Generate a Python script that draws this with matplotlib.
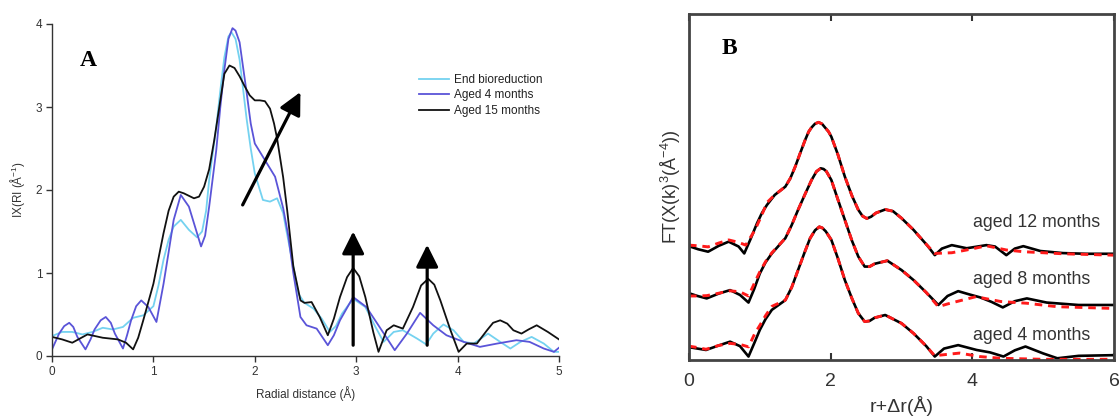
import matplotlib
matplotlib.use("Agg")
import matplotlib.pyplot as plt

plt.rcParams['font.family'] = ['Liberation Sans', 'DejaVu Sans']
plt.rcParams['mathtext.fontset'] = 'custom'
plt.rcParams['mathtext.rm'] = 'Liberation Sans'
plt.rcParams['mathtext.it'] = 'Liberation Sans:italic'

# ---------------- Panel A data ----------------
a_series = ["End bioreduction", "Aged 4 months", "Aged 15 months"]

end_x = [0.00, 0.10, 0.20, 0.30, 0.40, 0.50, 0.60, 0.70, 0.80, 0.90, 1.00, 1.05, 1.10, 1.15,
         1.20, 1.27, 1.35, 1.43, 1.48, 1.52, 1.55, 1.62, 1.66, 1.70, 1.74, 1.77, 1.81, 1.85,
         1.92, 1.96, 2.00, 2.08, 2.15, 2.22, 2.28, 2.31, 2.38, 2.43, 2.49, 2.58, 2.66, 2.74,
         2.80, 2.86, 2.97, 3.09, 3.19, 3.27, 3.37, 3.46, 3.60, 3.69, 3.76, 3.86, 3.96, 4.06,
         4.16, 4.30, 4.42, 4.52, 4.62, 4.73, 4.85, 4.95, 5.00]
end_y = [0.24, 0.29, 0.29, 0.26, 0.29, 0.34, 0.32, 0.35, 0.46, 0.49, 0.60, 0.85, 1.16, 1.40,
         1.56, 1.64, 1.52, 1.43, 1.50, 1.75, 2.12, 2.76, 3.20, 3.60, 3.85, 3.90, 3.82, 3.57,
         2.85, 2.50, 2.20, 1.88, 1.86, 1.90, 1.72, 1.52, 1.08, 0.75, 0.64, 0.57, 0.45, 0.29,
         0.36, 0.51, 0.69, 0.59, 0.35, 0.17, 0.29, 0.31, 0.21, 0.14, 0.27, 0.38, 0.31, 0.17,
         0.15, 0.27, 0.17, 0.09, 0.17, 0.23, 0.15, 0.05, 0.05]

a4_x = [0.00, 0.07, 0.12, 0.17, 0.21, 0.25, 0.33, 0.38, 0.42, 0.48, 0.53, 0.58, 0.62, 0.70,
        0.74, 0.78, 0.83, 0.88, 0.95, 1.03, 1.10, 1.15, 1.20, 1.27, 1.35, 1.42, 1.47, 1.51,
        1.55, 1.62, 1.66, 1.70, 1.74, 1.78, 1.81, 1.85, 1.92, 1.96, 2.00, 2.10, 2.20, 2.28,
        2.33, 2.38, 2.45, 2.51, 2.61, 2.72, 2.78, 2.84, 2.97, 3.10, 3.23, 3.38, 3.50, 3.63,
        3.76, 3.89, 4.06, 4.22, 4.39, 4.58, 4.71, 4.85, 4.95, 5.00]
a4_y = [0.08, 0.27, 0.36, 0.40, 0.35, 0.23, 0.08, 0.20, 0.32, 0.43, 0.47, 0.40, 0.27, 0.09,
        0.25, 0.43, 0.60, 0.67, 0.59, 0.41, 0.87, 1.25, 1.64, 1.94, 1.80, 1.52, 1.32, 1.45,
        1.80, 2.48, 3.00, 3.45, 3.82, 3.95, 3.92, 3.78, 3.17, 2.80, 2.56, 2.36, 2.16, 1.78,
        1.45, 1.00, 0.47, 0.37, 0.33, 0.13, 0.25, 0.43, 0.71, 0.59, 0.35, 0.07, 0.27, 0.52,
        0.37, 0.25, 0.17, 0.11, 0.15, 0.19, 0.17, 0.09, 0.05, 0.10]

a15_x = [0.00, 0.10, 0.20, 0.35, 0.50, 0.65, 0.73, 0.80, 0.85, 0.90, 1.00, 1.10, 1.15, 1.20,
         1.25, 1.30, 1.40, 1.45, 1.50, 1.55, 1.60, 1.65, 1.70, 1.75, 1.80, 1.85, 1.90, 1.95,
         2.00, 2.05, 2.10, 2.15, 2.19, 2.22, 2.28, 2.32, 2.38, 2.45, 2.49, 2.56, 2.64, 2.72,
         2.78, 2.84, 2.91, 2.97, 3.03, 3.09, 3.17, 3.22, 3.30, 3.37, 3.46, 3.56, 3.64, 3.71,
         3.77, 3.83, 3.93, 4.01, 4.09, 4.19, 4.29, 4.35, 4.42, 4.49, 4.55, 4.63, 4.70, 4.78,
         4.89, 5.00]
a15_y = [0.23, 0.20, 0.16, 0.26, 0.22, 0.20, 0.16, 0.08, 0.22, 0.43, 0.87, 1.48, 1.75, 1.92,
         1.98, 1.96, 1.90, 1.92, 2.04, 2.25, 2.60, 3.00, 3.40, 3.50, 3.47, 3.37, 3.25, 3.14,
         3.08, 3.08, 3.07, 2.98, 2.80, 2.62, 2.15, 1.75, 1.08, 0.67, 0.64, 0.65, 0.47, 0.25,
         0.45, 0.71, 0.95, 1.06, 0.96, 0.71, 0.28, 0.05, 0.31, 0.37, 0.33, 0.59, 0.85, 0.93,
         0.86, 0.67, 0.31, 0.05, 0.15, 0.15, 0.31, 0.40, 0.43, 0.39, 0.31, 0.27, 0.32, 0.37,
         0.29, 0.20]

a_colors = ["#74d2f0", "#5a54d8", "#111111"]

# arrows (tail x, tail y, head x, head y)
a_arrows = [(1.88, 1.82, 2.45, 3.18), (2.97, 0.13, 2.97, 1.50), (3.70, 0.13, 3.70, 1.34)]

# ---------------- Panel B data ----------------
b_labels = ["aged 12 months", "aged 8 months", "aged 4 months"]

b12_x = [0.00, 0.13, 0.27, 0.42, 0.56, 0.70, 0.78, 0.87, 0.96, 1.03, 1.10, 1.21, 1.36, 1.43,
         1.50, 1.57, 1.64, 1.69, 1.73, 1.78, 1.83, 1.88, 1.92, 1.97, 2.01, 2.10, 2.20, 2.30,
         2.39, 2.45, 2.51, 2.57, 2.64, 2.77, 2.88, 3.00, 3.17, 3.36, 3.47, 3.57, 3.71, 3.92,
         4.20, 4.32, 4.48, 4.60, 4.72, 4.96, 5.28, 5.60, 6.00]
b12_data = [3.29, 3.20, 3.13, 3.30, 3.42, 3.28, 3.08, 3.50, 3.95, 4.25, 4.48, 4.77, 5.01, 5.25,
            5.59, 5.98, 6.36, 6.60, 6.72, 6.83, 6.87, 6.82, 6.72, 6.60, 6.45, 5.95, 5.30, 4.75,
            4.34, 4.16, 4.09, 4.14, 4.25, 4.35, 4.30, 4.10, 3.76, 3.32, 3.03, 3.22, 3.32, 3.23,
            3.32, 3.28, 3.03, 3.22, 3.29, 3.15, 3.09, 3.07, 3.07]
b12_fit_x = [0.00, 0.13, 0.27, 0.42, 0.56, 0.70, 0.80, 0.93, 1.03, 1.10, 1.21, 1.36, 1.43,
             1.50, 1.57, 1.64, 1.69, 1.73, 1.78, 1.83, 1.88, 1.92, 1.97, 2.01, 2.10, 2.20,
             2.30, 2.39, 2.45, 2.51, 2.57, 2.64, 2.77, 2.88, 3.00, 3.17, 3.36, 3.47, 3.71,
             3.92, 4.20, 4.48, 4.72, 5.28, 6.00]
b12_fit = [3.32, 3.30, 3.27, 3.38, 3.47, 3.40, 3.32, 3.75, 4.20, 4.55, 4.77, 5.01, 5.25,
           5.59, 5.98, 6.36, 6.60, 6.72, 6.83, 6.87, 6.82, 6.72, 6.60, 6.45, 5.95, 5.30,
           4.75, 4.34, 4.16, 4.09, 4.14, 4.25, 4.35, 4.30, 4.10, 3.76, 3.32, 3.08, 3.10,
           3.18, 3.30, 3.18, 3.13, 3.07, 3.03]

b8_x = [0.00, 0.12, 0.25, 0.42, 0.58, 0.72, 0.84, 0.92, 1.00, 1.08, 1.17, 1.36, 1.45, 1.54,
        1.64, 1.73, 1.80, 1.86, 1.90, 1.94, 2.01, 2.10, 2.20, 2.30, 2.39, 2.48, 2.55, 2.62,
        2.80, 3.00, 3.17, 3.35, 3.52, 3.65, 3.80, 3.95, 4.11, 4.27, 4.43, 4.60, 4.77, 5.05,
        5.50, 6.00]
b8_data = [1.93, 1.85, 1.78, 1.92, 2.02, 1.88, 1.66, 2.05, 2.50, 2.82, 3.08, 3.52, 3.90, 4.34,
           4.80, 5.20, 5.45, 5.54, 5.52, 5.45, 5.20, 4.65, 4.05, 3.45, 2.99, 2.70, 2.70, 2.78,
           2.87, 2.60, 2.31, 1.95, 1.59, 1.85, 1.99, 1.90, 1.81, 1.68, 1.52, 1.70, 1.78, 1.66,
           1.59, 1.59]
b8_fit_x = [0.00, 0.12, 0.25, 0.42, 0.58, 0.72, 0.84, 0.93, 1.00, 1.08, 1.17, 1.36, 1.45,
            1.54, 1.64, 1.73, 1.80, 1.86, 1.90, 1.94, 2.01, 2.10, 2.20, 2.30, 2.39, 2.48,
            2.55, 2.62, 2.80, 3.00, 3.17, 3.35, 3.52, 3.65, 3.80, 4.05, 4.40, 4.77, 5.20, 6.00]
b8_fit = [1.85, 1.85, 1.86, 1.93, 2.00, 1.97, 1.85, 2.25, 2.55, 2.84, 3.10, 3.52, 3.90,
          4.34, 4.80, 5.20, 5.45, 5.54, 5.52, 5.45, 5.20, 4.65, 4.05, 3.45, 2.99, 2.70,
          2.70, 2.78, 2.87, 2.60, 2.31, 1.95, 1.54, 1.62, 1.70, 1.83, 1.69, 1.64, 1.54, 1.49]

b4_x = [0.00, 0.12, 0.24, 0.42, 0.58, 0.72, 0.84, 0.92, 1.00, 1.08, 1.17, 1.36, 1.45, 1.54,
        1.63, 1.71, 1.78, 1.84, 1.88, 1.93, 2.01, 2.10, 2.20, 2.30, 2.39, 2.48, 2.55, 2.62,
        2.77, 3.00, 3.17, 3.35, 3.47, 3.60, 3.80, 4.06, 4.25, 4.44, 4.60, 4.75, 5.00, 5.20,
        5.50, 6.00]
b4_data = [0.37, 0.33, 0.29, 0.42, 0.53, 0.40, 0.10, 0.48, 0.87, 1.18, 1.45, 1.73, 2.10, 2.60,
           3.10, 3.52, 3.75, 3.85, 3.82, 3.72, 3.47, 2.95, 2.31, 1.78, 1.35, 1.11, 1.13, 1.22,
           1.30, 1.06, 0.77, 0.40, 0.10, 0.33, 0.43, 0.29, 0.22, 0.10, 0.28, 0.39, 0.19, 0.05,
           0.12, 0.14]
b4_fit_x = [0.00, 0.12, 0.24, 0.42, 0.58, 0.72, 0.84, 0.93, 1.00, 1.08, 1.17, 1.36, 1.45,
            1.54, 1.63, 1.71, 1.78, 1.84, 1.88, 1.93, 2.01, 2.10, 2.20, 2.30, 2.39, 2.48,
            2.55, 2.62, 2.77, 3.00, 3.17, 3.35, 3.47, 3.54, 3.82, 4.10, 4.40, 5.00, 6.00]
b4_fit = [0.40, 0.36, 0.31, 0.42, 0.48, 0.45, 0.38, 0.77, 1.00, 1.28, 1.55, 1.73, 2.10,
          2.60, 3.10, 3.52, 3.75, 3.85, 3.82, 3.72, 3.47, 2.95, 2.31, 1.78, 1.35, 1.11,
          1.13, 1.22, 1.30, 1.06, 0.77, 0.40, 0.12, 0.14, 0.20, 0.10, 0.05, 0.02, 0.02]

b_label_y = [3.96, 2.34, 0.72]

# ---------------- Figure ----------------
fig = plt.figure(figsize=(11.19, 4.17), dpi=100)

# Panel A
axA = fig.add_axes([52 / 1119, 61 / 417, 507 / 1119, 332 / 417])
for xs, ys, lab, c in zip([end_x, a4_x, a15_x], [end_y, a4_y, a15_y], a_series, a_colors):
    axA.plot(xs, ys, color=c, lw=1.3, label=lab, solid_joinstyle='round')
for (x0, y0, x1, y1) in a_arrows:
    axA.annotate("", xy=(x1, y1), xytext=(x0, y0),
                 arrowprops=dict(arrowstyle="-|>,head_length=0.9,head_width=0.45",
                                 lw=2.3, color="black", shrinkA=0, shrinkB=0,
                                 mutation_scale=15))
axA.set_xlim(0, 5)
axA.set_ylim(0, 4)
for s in ["top", "right"]:
    axA.spines[s].set_visible(False)
for s in ["left", "bottom"]:
    axA.spines[s].set_color("#333333")
    axA.spines[s].set_linewidth(1.0)
axA.set_xticks([0, 1, 2, 3, 4, 5])
axA.set_yticks([0, 1, 2, 3, 4])
axA.tick_params(direction="out", length=4, width=1, colors="#333333", labelsize=8.5, pad=3)
axA.set_xlabel("Radial distance (Å)", fontsize=8.5, color="#333333", labelpad=6)
axA.set_ylabel("IX(RI (Å$^{-1}$)", fontsize=8.5, color="#333333", labelpad=6)
leg = axA.legend(loc="upper left", bbox_to_anchor=(0.724, 0.85), frameon=False,
                 fontsize=8.5, handlelength=2.5, handletextpad=0.5, labelspacing=0.3,
                 borderpad=0, borderaxespad=0)
for t in leg.get_texts():
    t.set_color("#222222")
fig.text(88 / 1119, 1 - 60 / 417, "A", family="Liberation Serif", weight="bold",
         fontsize=17, ha="center", va="center")

# Panel B
axB = fig.add_axes([689 / 1119, 57 / 417, 425 / 1119, 346 / 417])
for xs, ys in zip([b12_x, b8_x, b4_x], [b12_data, b8_data, b4_data]):
    axB.plot(xs, ys, color="black", lw=1.9, solid_joinstyle="round")
for xs, ys in zip([b12_fit_x, b8_fit_x, b4_fit_x], [b12_fit, b8_fit, b4_fit]):
    axB.plot(xs, ys, color="#ff1a1a", lw=2.1, linestyle=(0, (2.6, 2.0)))
for lab, ly in zip(b_labels, b_label_y):
    axB.text(4.01, ly, lab, fontsize=12.8, color="#333333", ha="left", va="center")
axB.set_xlim(0, 6)
axB.set_ylim(0, 10)
axB.set_xticks([0, 2, 4, 6])
axB.set_yticks([])
axB.tick_params(axis="x", direction="in", length=5, width=1.5, top=True, bottom=True,
                colors="#333333", labelsize=14, pad=9)
for s in axB.spines.values():
    s.set_color("#444444")
    s.set_linewidth(2.0)
axB.set_xlabel("r+Δr(Å)", fontsize=14, color="#333333", labelpad=5)
axB.set_ylabel("FT(X(k)$^{3}$(Å$^{-4}$))", fontsize=13, color="#333333", labelpad=4)
fig.text(729 / 1119, 1 - 49 / 417, "B", family="Liberation Serif", weight="bold",
         fontsize=17, ha="center", va="center")

fig.savefig("out.png", dpi=100)
